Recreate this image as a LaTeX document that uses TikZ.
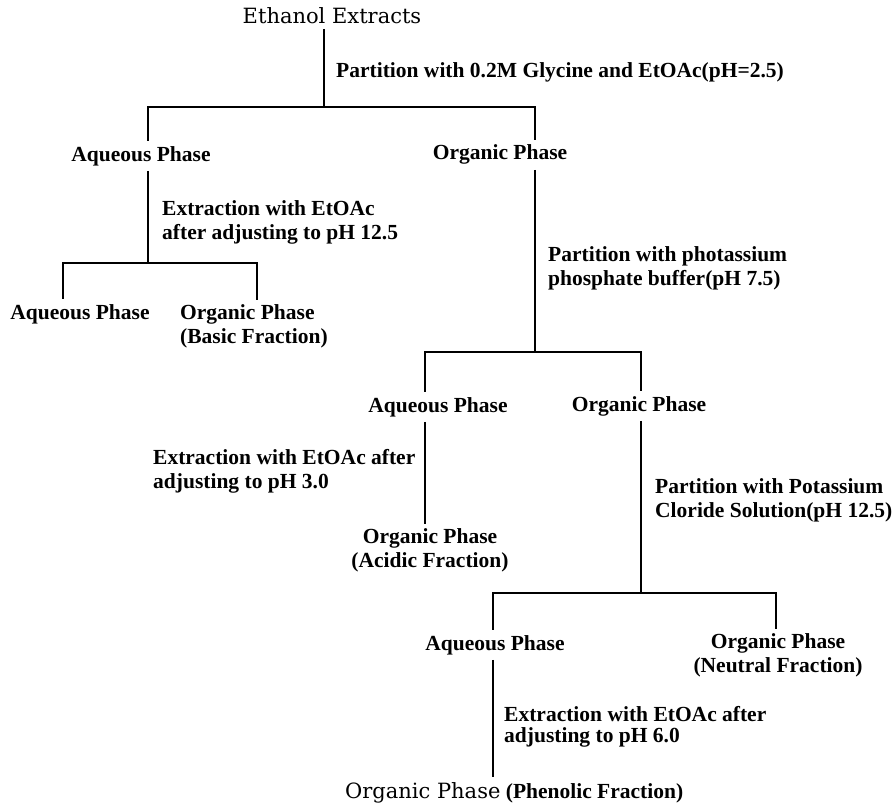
\documentclass[tikz,border=0pt]{standalone}
\usepackage{fontspec}
\setmainfont{Liberation Serif}
\newfontfamily\extractfont{DejaVu Serif}
\usepackage{tikz}
\tikzset{
	phase/.style={font=\bfseries\fontsize{21.5}{24}\selectfont, inner sep=5pt, align=center},
	cond/.style={font=\bfseries\fontsize{21.5}{24}\selectfont, inner sep=0pt, align=left, anchor=north west},
	link/.style={line width=1.3pt}
}

\begin{document}
\begin{tikzpicture}[x=1pt, y=-1pt]
			%%%%% START %%%%%
			\useasboundingbox (0, 0) rectangle (893, 805);
			
			\node[phase, font=\extractfont\fontsize{21}{24}\selectfont, anchor=base] (eth) at (332, 24) {Ethanol Extracts};
			\node[cond, anchor=base west] (partA) at (336, 78) {Partition with 0.2M Glycine and EtOAc(pH=2.5)};
			
			\node[phase, anchor=base] (aqA) at (141, 161) {Aqueous Phase};
			\node[phase, anchor=base] (orgA) at (500, 160) {Organic Phase};
			
			\node[cond] (extA) at (162, 200) {Extraction with EtOAc\\after adjusting to pH 12.5};
			
			\node[phase, anchor=base] (aqB) at (80, 319) {Aqueous Phase};
			\node[phase, align=left, anchor=north west] (orgB) at (175, 299.5) {Organic Phase\\(Basic Fraction)};
			
			\node[cond] (partB) at (548, 246) {Partition with photassium\\phosphate buffer(pH 7.5)};
			
			\node[phase, anchor=base] (aqC) at (438, 412) {Aqueous Phase};
			\node[phase, anchor=base] (orgC) at (639, 411) {Organic Phase};
			
			\node[cond] (extB) at (153, 449) {Extraction with EtOAc after\\adjusting to pH 3.0};
			\node[phase, anchor=north] (acid) at (430, 523.5) {Organic Phase\\(Acidic Fraction)};
			
			\node[cond] (partC) at (655, 478) {Partition with Potassium\\Cloride Solution(pH 12.5)};
			
			\node[phase, anchor=base] (aqD) at (495, 650) {Aqueous Phase};
			\node[phase, anchor=north] (neut) at (778, 628.5) {Organic Phase\\(Neutral Fraction)};
			
			\node[cond, font=\bfseries\fontsize{21.5}{21}\selectfont] (extC) at (504, 706) {Extraction with EtOAc after\\adjusting to pH 6.0};
			\node[phase, anchor=base west] (phen) at (340, 798) {{\extractfont\mdseries\fontsize{21}{24}\selectfont Organic Phase} (Phenolic Fraction)};
			
			% first split
			\coordinate (jA) at (324, 107);
			\coordinate (jAl) at (148, 107);
			\coordinate (jAr) at (535, 107);
			\draw[link] (eth.south -| jA) -- (jA);
			\draw[link] (aqA.north -| jAl) -- (jAl) -- (jAr) -- (orgA.north -| jAr);
			
			\coordinate (jB) at (148, 263);
			\coordinate (jBl) at (63, 263);
			\coordinate (jBr) at (257, 263);
			\draw[link] (aqA.south -| jB) -- (jB);
			\draw[link] (aqB.north -| jBl) -- (jBl) -- (jBr) -- (orgB.north -| jBr);
			
			\coordinate (jC) at (535, 352);
			\coordinate (jCl) at (425, 352);
			\coordinate (jCr) at (641, 352);
			\draw[link] (orgA.south -| jC) -- (jC);
			\draw[link] (aqC.north -| jCl) -- (jCl) -- (jCr) -- (orgC.north -| jCr);
			\draw[link] (aqC.south -| jCl) -- (acid.north -| jCl);
			
			\coordinate (jE) at (641, 593);
			\coordinate (jEl) at (493, 593);
			\coordinate (jEr) at (776, 593);
			\draw[link] (orgC.south -| jE) -- (jE);
			\draw[link] (aqD.north -| jEl) -- (jEl) -- (jEr) -- (neut.north -| jEr);
			\draw[link] (aqD.south -| jEl) -- (phen.north -| jEl);
			
			%%%%% END %%%%%
\end{tikzpicture}
\end{document}
